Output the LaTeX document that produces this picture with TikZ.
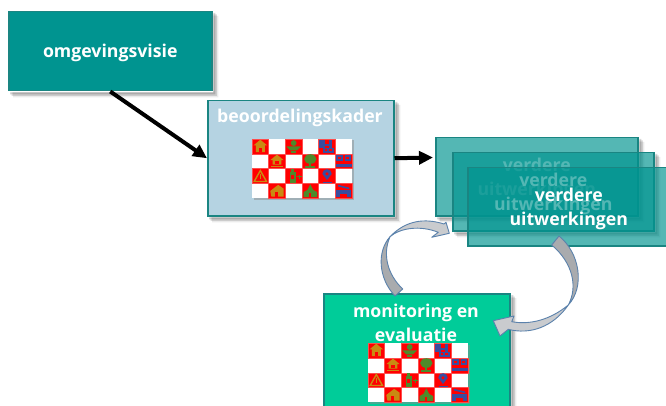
\documentclass[tikz,border=0pt]{standalone}
\usepackage{fontspec}
\setmainfont{Open Sans}
\usetikzlibrary{calc,arrows.meta}
\definecolor{tealbox}{HTML}{009490}
\definecolor{tealedge}{HTML}{1A8582}
\definecolor{lightbox}{HTML}{B5D3E2}
\definecolor{greenbox}{HTML}{00CC99}
\definecolor{blockgrey}{HTML}{A9ABAE}
\definecolor{blocklight}{HTML}{C9CBCE}
\definecolor{blockedge}{HTML}{5B82AC}
\definecolor{iconO}{HTML}{C98A12}
\definecolor{iconG}{HTML}{4E8A2A}
\definecolor{iconB}{HTML}{3A4C9E}
\tikzset{
  x=1pt,y=-1pt,
  boxbase/.style={anchor=north west,draw=tealedge,line width=1.5pt,inner sep=0pt},
  tealfill/.style={boxbase,fill=tealbox},
  lightfill/.style={boxbase,fill=lightbox},
  greenfill/.style={boxbase,fill=greenbox},
  stackfill/.style={boxbase,fill=tealbox,fill opacity=.67},
  boxtext/.style={text=white,font=\bfseries\fontsize{17.7}{24}\selectfont,align=center,inner sep=0pt},
  flowarrow/.style={line width=4pt,-{Triangle[length=14pt,width=13pt]}},
  blockdark/.style={fill=blockgrey,draw=blockedge,line width=.9pt,line join=round},
  blockpale/.style={fill=blocklight,draw=blockedge,line width=.9pt,line join=round},
  gridcell/.style={fill=red,draw=red!70!white,line width=.4pt},
}
\newcommand{\softshadow}[1]{%
  \foreach \d/\o in {5/.08,3.5/.13,2/.16}{
    \fill[black,opacity=\o] ($(#1.north east)+(0.8,\d)$) -- ($(#1.north east)+(\d+0.8,\d)$) -- ($(#1.south east)+(\d+0.8,\d+0.8)$) -- ($(#1.south west)+(\d,\d+0.8)$) -- ($(#1.south west)+(\d,0.8)$) -- ($(#1.south east)+(0.8,0.8)$) -- cycle;
  }}
% icons drawn around the origin of a cell (about 16 x 14)
\newcommand{\icHouseA}{\fill[iconO] (-6,-1)--(0,-6)--(6,-1)--(4,-1)--(4,5)--(-4,5)--(-4,-1)--cycle; \fill[red] (-1,1) rectangle (1.6,5);}
\newcommand{\icHouseB}{\fill[iconO] (-6,-1)--(0,-6)--(6,-1)--(4,-1)--(4,3)--(-4,3)--(-4,-1)--cycle; \fill[iconO] (-5.5,4) rectangle (5.5,5.5); \fill[red] (-1.5,0) rectangle (1.5,2);}
\newcommand{\icTriangle}{\draw[iconO,line width=1.4pt,line join=miter] (0,-5)--(5.5,4.8)--(-5.5,4.8)--cycle; \fill[iconO] (-.6,-1.5) rectangle (.6,2.5);}
\newcommand{\icHouseC}{\fill[iconO] (-6,0)--(1,-5.5)--(6,-2)--(6,5)--(-5,5)--cycle; \fill[red] (-2,1) rectangle (1,5);}
\newcommand{\icBowl}{\fill[iconG] (-6.5,0) -- (6.5,0) -- (3,3.5) -- (-3,3.5) -- cycle; \fill[iconG] (-2.5,4.5) rectangle (2.5,5.5); \fill[iconG] (0,-3) circle (2.6); \fill[iconG] (-.5,-3) rectangle (.5,0);}
\newcommand{\icTree}{\fill[iconG] (0,-2) ellipse (5.5 and 4.3); \fill[iconG] (-1,0) rectangle (1,5); \fill[iconG] (-4.5,4.5) rectangle (4.5,5.8);}
\newcommand{\icBottle}{\fill[iconG] (-3.5,-3.5) rectangle (2,6); \fill[iconG] (-2,-6) rectangle (.5,-3.5); \fill[red] (-2,-1) rectangle (.5,3); \fill[iconG] (3,0) rectangle (7,1.2); \fill[iconG] (4.4,-1.4) rectangle (5.6,2.6);}
\newcommand{\icChurch}{\fill[iconG] (-6,5.5) -- (-6,1) -- (-2.5,-1) -- (0,-6) -- (2.5,-1) -- (6,1) -- (6,5.5) -- cycle; \fill[red] (-1,2) rectangle (1,5.5);}
\newcommand{\icBuild}{\fill[iconB] (-7,-5.5) rectangle (-2,1); \fill[iconB] (-3,-2) rectangle (3,-.5); \fill[iconB] (-4,1) rectangle (6,5.5); \fill[iconB] (2,-6) rectangle (4,1); \fill[red] (-2,2.5) rectangle (0,4); \fill[red] (2,2.5) rectangle (4,4);}
\newcommand{\icCars}{\fill[iconB] (-6.5,-5.5) rectangle (-1,0); \fill[iconB] (1,-5.5) rectangle (6.5,0); \fill[red] (-5,-4) rectangle (-2.5,-2); \fill[red] (2.5,-4) rectangle (5,-2); \fill[iconB] (-7,2.5) rectangle (7,5.5);}
\newcommand{\icPin}{\fill[iconB] (0,3.5) -- (-4.2,-2) arc[start angle=180,end angle=0,x radius=4.2,y radius=-4.2] -- cycle; \fill[red] (0,-2) circle (1.5); \draw[iconB,line width=.8pt] (-4,5.4) -- (4,5.4);}
\newcommand{\icFactory}{\fill[iconB] (-6.5,-.5) rectangle (6.5,5.5); \fill[iconB] (-5,-5.5) -- (5,-3) -- (5,-1.5) -- (-5,-4) -- cycle; \fill[red] (-3,3) rectangle (3,5.5);}
\newcommand{\chequer}[1]{% top-left corner is the named coordinate
  \begin{scope}[shift={(#1)}]
    \fill[black!45,opacity=.5] (1.5,1.5) rectangle (101.5,61);
    \fill[white] (0,0) rectangle (100,59.4);
    \foreach \cx/\cy/\ic in {0/0/\icHouseA,2/0/\icBowl,4/0/\icBuild,
                             1/1/\icHouseB,3/1/\icTree,5/1/\icCars,
                             0/2/\icTriangle,2/2/\icBottle,4/2/\icPin,
                             1/3/\icHouseC,3/3/\icChurch,5/3/\icFactory}{
      \fill[gridcell] ({\cx*16.67},{\cy*14.85}) rectangle ++(16.67,14.85);
      \begin{scope}[shift={({(\cx+.5)*16.67},{(\cy+.5)*14.85})},scale=1.12]
        \ic
      \end{scope}
    }
  \end{scope}}
\begin{document}
\begin{tikzpicture}
\useasboundingbox (0,0) rectangle (666,406);
\clip (0,0) rectangle (666,406);
\fill[white] (0,0) rectangle (666,406);
% omgevingsvisie
\node[tealfill,minimum width=203pt,minimum height=79pt] (omg) at (8,11) {};
\softshadow{omg}
\node[boxtext] (omgtxt) at ($(omg.center)+(0,2)$) {omgevingsvisie};
% beoordelingskader
\node[lightfill,minimum width=186pt,minimum height=115pt] (kader) at (207,100) {};
\softshadow{kader}
\node[boxtext] (kadertxt) at (300,118) {beoordelingskader};
\coordinate (gridA) at (252,139);
\chequer{gridA}
% stack
\node[stackfill,minimum width=202pt,minimum height=78pt] (s1) at (435,137) {};
\softshadow{s1}
\node[boxtext] (s1txt) at ($(s1.center)+(0,2.5)$) {verdere\\uitwerkingen};
\node[stackfill,minimum width=201pt,minimum height=78pt] (s2) at (452,152) {};
\softshadow{s2}
\node[boxtext] (s2txt) at ($(s2.center)+(0,2.5)$) {verdere\\uitwerkingen};
\node[stackfill,minimum width=202pt,minimum height=78pt] (s3) at (467,167) {};
\node[boxtext] (s3txt) at ($(s3.center)+(0,2.5)$) {verdere\\uitwerkingen};
% monitoring
\node[greenfill,minimum width=186pt,minimum height=130pt] (mon) at (323,293) {};
\softshadow{mon}
\node[boxtext] (montxt) at (416,322.5) {monitoring en\\evaluatie};
\coordinate (gridB) at (368,343);
\chequer{gridB}
% straight arrows
\draw[flowarrow] (omg.south) -- (kader.west);
\coordinate (a2e) at (433,157.5);
\draw[flowarrow] (kader.east) -- (a2e);
% curved block arrows: left one
\coordinate (lp) at (390,236.7);
\draw[blockpale] (lp) .. controls (406,220) and (425,218) .. (444,224)
  -- (446,222.3) -- (449.3,233.3) -- (431.7,237.3) -- (438.3,232.3)
  .. controls (420,225) and (400,228) .. (lp) -- cycle;
\draw[blockdark] (395,296) .. controls (378.3,278.3) and (376.7,251.7) .. (lp)
  .. controls (382,255) and (388,275) .. (402.7,289) -- cycle;
% right one
\coordinate (rp) at (568.3,305);
\draw[blockpale] (rp) .. controls (550,320) and (530,325) .. (511.7,321.7)
  -- (514,316) -- (493.3,320.7) -- (500,336) -- (508.3,329.3)
  .. controls (530,335) and (553,327) .. (rp) -- cycle;
\draw[blockdark] (559,236) .. controls (580,253) and (585,287) .. (rp)
  .. controls (578,287) and (573,263) .. (551.7,245) -- cycle;
\end{tikzpicture}
\end{document}
